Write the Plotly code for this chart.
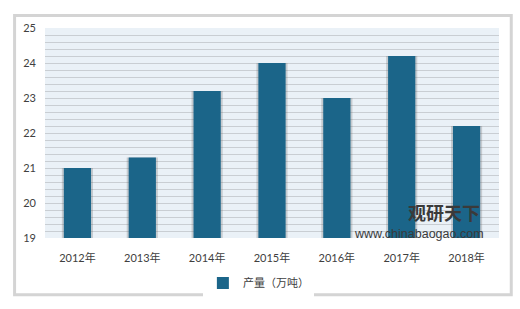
import plotly.graph_objects as go

years = ["2012年", "2013年", "2014年", "2015年", "2016年", "2017年", "2018年"]
output = [21.0, 21.3, 23.2, 24.0, 23.0, 24.2, 22.2]
y_ticks = [19, 20, 21, 22, 23, 24, 25]
series_name = "产量（万吨）"

font_family = "Lato, 'Noto Sans CJK SC', sans-serif"

fig = go.Figure()
# soft shadow behind bars
fig.add_trace(go.Bar(
    x=years, y=output, width=0.48,
    marker=dict(color="rgba(90,90,90,0.25)", line=dict(width=0)),
    showlegend=False, hoverinfo="skip",
))
fig.add_trace(go.Bar(
    x=years, y=output, name=series_name, width=0.42,
    marker=dict(color="#1B6589", line=dict(width=0)),
))

fig.update_layout(
    width=520, height=309,
    margin=dict(l=45, r=21, t=28, b=66),
    paper_bgcolor="white",
    plot_bgcolor="#EAF1F7",
    barmode="overlay",
    font=dict(family=font_family, size=11, color="#404040"),
    showlegend=True,
    legend=dict(
        orientation="h", x=0.47, xanchor="center", y=-0.145, yanchor="top",
        bgcolor="white", font=dict(size=11, color="#404040"),
        itemwidth=30,
    ),
    xaxis=dict(
        showgrid=False, showline=False, ticks="", zeroline=False,
        ticklabelstandoff=12,
        tickfont=dict(size=11, color="#404040"),
    ),
    yaxis=dict(
        range=[19, 25], tickvals=y_ticks, showgrid=True,
        gridcolor="#C9CED3", gridwidth=1, zeroline=False,
        minor=dict(dtick=0.2, showgrid=True, gridcolor="#C9CED3", gridwidth=1),
        showline=False, ticks="", ticklabelstandoff=8,
        tickfont=dict(size=11, color="#404040"),
    ),
    shapes=[
        dict(type="rect", xref="paper", yref="paper", x0=-0.067, x1=1.027,
             y0=-0.27, y1=1.06, line=dict(color="#D4D4D4", width=3),
             fillcolor="rgba(0,0,0,0)", layer="below"),
    ],
    annotations=[
        dict(text="<b>观研天下</b>", xref="paper", yref="paper", x=0.96, y=0.058,
             xanchor="right", yanchor="bottom", showarrow=False, borderpad=0,
             font=dict(size=18, color="#3A3A3A", family="'Noto Sans CJK SC'")),
        dict(text="www.chinabaogao.com", xref="paper", yref="paper", x=0.97, y=0.058,
             xanchor="right", yanchor="top", showarrow=False, borderpad=0,
             font=dict(size=12.5, color="#3A3A3A", family="'Liberation Sans'")),
    ],
)

fig.write_html("out.html")
